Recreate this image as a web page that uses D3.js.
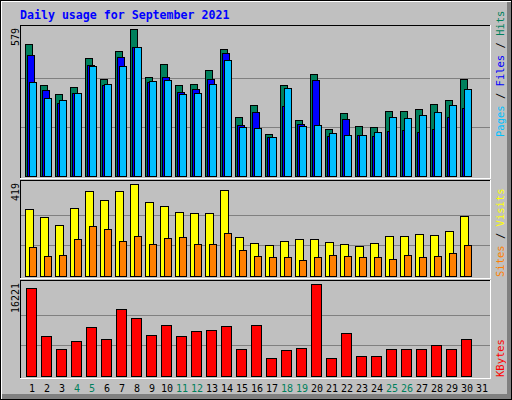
<!DOCTYPE html>
<html>
<head>
<meta charset="utf-8">
<script src="https://cdn.jsdelivr.net/npm/d3@7"></script>
<style>
  body { margin: 0; background: #fff; }
  text { font-family: "DejaVu Sans Mono", monospace; }
</style>
</head>
<body>
<svg id="chart" width="512" height="400"></svg>
<script>
const days = d3.range(1, 31);
const allDays = d3.range(1, 32);
const weekendDays = [4, 5, 11, 12, 18, 19, 25, 26];

const hits = [520, 358, 323, 351, 465, 382, 492, 579, 390, 441, 358, 362, 418, 500, 232,
  280, 165, 358, 221, 402, 185, 248, 197, 193, 256, 256, 264, 284, 299, 382];
const files = [477, 339, 288, 327, 437, 359, 469, 508, 370, 390, 331, 343, 382, 485, 201,
  252, 154, 276, 205, 378, 158, 225, 162, 158, 177, 181, 173, 185, 232, 268];
const pages = [370, 307, 299, 327, 433, 362, 433, 508, 374, 378, 323, 327, 362, 457, 193,
  189, 154, 347, 197, 201, 169, 162, 162, 173, 232, 229, 240, 252, 280, 343];
const visits = [305, 269, 232, 310, 387, 346, 387, 419, 337, 319, 291, 287, 287, 392, 178,
  150, 141, 159, 168, 168, 155, 146, 137, 150, 182, 182, 191, 187, 205, 273];
const sites = [132, 91, 96, 168, 228, 214, 159, 182, 146, 173, 178, 146, 146, 196, 118,
  91, 87, 87, 73, 87, 96, 91, 87, 87, 77, 96, 87, 91, 105, 141];
const kbytes = [15462, 7000, 4707, 6118, 8586, 6470, 11759, 10172, 7175, 8938, 7000, 7881, 8057, 8762, 4707,
  8938, 3120, 4531, 4883, 16221, 3120, 7528, 3473, 3473, 4707, 4707, 4707, 5412, 4707, 6470];

const svg = d3.select("#chart");

// outer frame with bevel
svg.append("rect").attr("x", 0).attr("y", 0).attr("width", 512).attr("height", 400).attr("fill", "#000");
svg.append("rect").attr("x", 1).attr("y", 1).attr("width", 510).attr("height", 398).attr("fill", "#fff");
svg.append("rect").attr("x", 2).attr("y", 2).attr("width", 509).attr("height", 397).attr("fill", "#808080");
svg.append("rect").attr("x", 2).attr("y", 2).attr("width", 505).attr("height", 392).attr("fill", "#c0c0c0");

svg.append("text")
  .attr("x", 20).attr("y", 19)
  .attr("fill", "#0000ff")
  .attr("font-size", "11.6px")
  .attr("font-weight", "bold")
  .text("Daily usage for September 2021");

const x = d3.scaleBand().domain(allDays).range([24, 489]).padding(0);

const panels = [
  { top: 25, bottom: 178, base: 176, max: 579, label: "579" },
  { top: 180, bottom: 278, base: 276, max: 419, label: "419" },
  { top: 280, bottom: 378, base: 376, max: 16221, label: "16221" }
];

panels.forEach(p => {
  p.y = d3.scaleLinear().domain([0, p.max]).range([p.base, p.base - 92]);
});
panels[0].y.range([176, 29]);

panels.forEach(p => {
  svg.append("line").attr("x1", 20).attr("x2", 490).attr("y1", p.top + 0.5).attr("y2", p.top + 0.5).attr("stroke", "#000");
  svg.append("line").attr("x1", 20.5).attr("x2", 20.5).attr("y1", p.top).attr("y2", p.bottom).attr("stroke", "#000");
  svg.append("line").attr("x1", 20).attr("x2", 491).attr("y1", p.bottom + 0.5).attr("y2", p.bottom + 0.5).attr("stroke", "#fff");
  svg.append("line").attr("x1", 490.5).attr("x2", 490.5).attr("y1", p.top).attr("y2", p.bottom + 1).attr("stroke", "#fff");

  [1 / 3, 2 / 3].forEach(f => {
    const gy = Math.round(p.y(p.max * f)) + 0.5;
    svg.append("line").attr("x1", 21).attr("x2", 490).attr("y1", gy).attr("y2", gy).attr("stroke", "#808080");
  });

  svg.append("text")
    .attr("transform", "translate(19," + (p.top + 3) + ") rotate(-90)")
    .attr("text-anchor", "end")
    .attr("font-size", "10px")
    .attr("fill", "#000")
    .text(p.label);
});

function drawBars(values, panel, offset, width, color) {
  svg.append("g")
    .selectAll("rect")
    .data(days)
    .enter()
    .append("rect")
    .attr("x", d => x(d) + offset + 0.5)
    .attr("y", (d, i) => Math.round(panel.y(values[i])) + 0.5)
    .attr("width", width)
    .attr("height", (d, i) => panel.base - Math.round(panel.y(values[i])))
    .attr("fill", color)
    .attr("stroke", "#000")
    .attr("stroke-width", 1);
}

drawBars(hits, panels[0], 1, 7, "#00805c");
drawBars(files, panels[0], 3, 7, "#0000ff");
drawBars(pages, panels[0], 5, 7, "#00c0ff");
drawBars(visits, panels[1], 1, 8, "#ffff00");
drawBars(sites, panels[1], 5, 7, "#ff8000");
drawBars(kbytes, panels[2], 2, 10, "#ff0000");

// right-side legends, reading upward
function sideLegend(yStart, parts) {
  const t = svg.append("text")
    .attr("transform", "translate(504," + yStart + ") rotate(-90)")
    .attr("font-size", "10.5px");
  parts.forEach(p => t.append("tspan").attr("fill", p[1]).text(p[0]));
}
sideLegend(137, [["Pages", "#00c0ff"], [" / ", "#000"], ["Files", "#0000ff"], [" / ", "#000"], ["Hits", "#00805c"]]);
sideLegend(277, [["Sites", "#ff8000"], [" / ", "#000"], ["Visits", "#ffff00"]]);
sideLegend(377, [["KBytes", "#ff0000"]]);

svg.append("g")
  .selectAll("text")
  .data(allDays)
  .enter()
  .append("text")
  .attr("x", d => x(d) + 8)
  .attr("y", 392)
  .attr("text-anchor", "middle")
  .attr("font-size", "10px")
  .attr("fill", d => weekendDays.includes(d) ? "#00805c" : "#000")
  .text(d => d);
</script>
</body>
</html>
